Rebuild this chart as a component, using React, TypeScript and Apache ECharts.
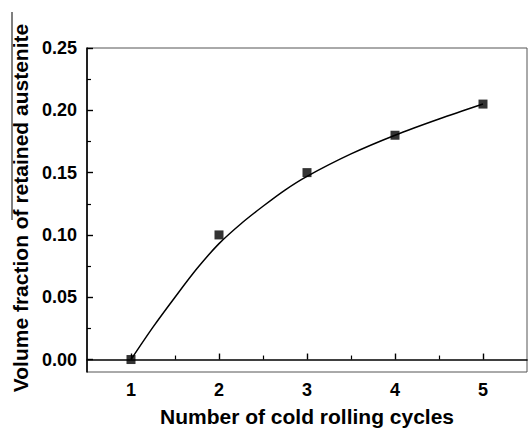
import React, { useEffect, useRef } from "react";
import * as echarts from "echarts";

const cycles = [1, 2, 3, 4, 5];
const fraction = [0.0, 0.1, 0.15, 0.18, 0.205];
const fitX = [1, 1.25, 1.5, 1.75, 2, 2.25, 2.5, 2.75, 3, 3.5, 4, 4.5, 5];
const fitY = [0.0, 0.026, 0.05, 0.073, 0.093, 0.109, 0.123, 0.136, 0.147, 0.165, 0.18, 0.193, 0.205];
const xTicks = [1, 2, 3, 4, 5];
const xMinorTicks = [1.5, 2.5, 3.5, 4.5];
const yTicks = [0, 0.05, 0.1, 0.15, 0.2, 0.25];
const yMinorTicks = [0.025, 0.075, 0.125, 0.175, 0.225];

const FONT = "'Liberation Sans', Arial, sans-serif";

export default function App() {
  const ref = useRef<HTMLDivElement>(null);
  useEffect(() => {
    if (!ref.current) return;
    const chart = echarts.init(ref.current, null, { renderer: "svg" });
    const labelStyle = { color: "#000", fontFamily: FONT, fontWeight: "bold", fontSize: 18 };
    chart.setOption({
      animation: false,
      backgroundColor: "#fff",
      grid: { left: 87, right: 1, top: 48, bottom: 58, show: true, borderColor: "#555", borderWidth: 1 },
      xAxis: [
        {
          type: "value",
          position: "bottom",
          min: 0.5,
          max: 5.5,
          splitLine: { show: false },
          axisLine: { show: true, lineStyle: { color: "#000", width: 1.6 } },
          axisTick: { show: true, inside: true, length: 6, lineStyle: { color: "#000", width: 1.4 }, customValues: xTicks },
          axisLabel: { ...labelStyle, margin: 9, customValues: xTicks, formatter: (v: number) => String(v) },
          name: "Number of cold rolling cycles",
          nameLocation: "middle",
          nameGap: 34,
          nameTextStyle: { color: "#000", fontFamily: FONT, fontWeight: "bold", fontSize: 21 },
        },
        {
          type: "value",
          position: "bottom",
          min: 0.5,
          max: 5.5,
          splitLine: { show: false },
          axisLine: { show: false },
          axisTick: { show: true, inside: true, length: 4, lineStyle: { color: "#000", width: 1.2 }, customValues: xMinorTicks },
          axisLabel: { show: false },
        },
      ],
      yAxis: [
        {
          type: "value",
          position: "left",
          min: -0.01,
          max: 0.25,
          splitLine: { show: false },
          axisLine: { show: true, lineStyle: { color: "#000", width: 1.6 } },
          axisTick: { show: true, inside: true, length: 6, lineStyle: { color: "#000", width: 1.4 }, customValues: yTicks },
          axisLabel: { ...labelStyle, margin: 10, customValues: yTicks, formatter: (v: number) => v.toFixed(2) },
        },
        {
          type: "value",
          position: "left",
          min: -0.01,
          max: 0.25,
          splitLine: { show: false },
          axisLine: { show: false },
          axisTick: { show: true, inside: true, length: 4, lineStyle: { color: "#000", width: 1.2 }, customValues: yMinorTicks },
          axisLabel: { show: false },
        },
      ],
      graphic: [
        {
          type: "text",
          x: 20,
          y: 208,
          rotation: Math.PI / 2,
          style: {
            text: "Volume fraction of retained austenite",
            fill: "#000",
            font: `bold 21px ${FONT}`,
            align: "center",
            verticalAlign: "middle",
          },
        },
        {
          type: "line",
          shape: { x1: 12, y1: 12, x2: 12, y2: 220 },
          style: { stroke: "#000", lineWidth: 1 },
        },
      ],
      series: [
        {
          type: "line",
          data: fitX.map((x, i) => [x, fitY[i]]),
          smooth: 0.3,
          showSymbol: false,
          symbol: "none",
          lineStyle: { color: "#000", width: 1.5 },
          z: 2,
        },
        {
          type: "scatter",
          data: cycles.map((x, i) => [x, fraction[i]]),
          symbol: "rect",
          symbolSize: 9,
          itemStyle: { color: "#000" },
          z: 3,
        },
      ],
    });
    return () => chart.dispose();
  }, []);
  return <div ref={ref} style={{ position: "fixed", left: 0, top: 0, width: 528, height: 432 }} />;
}
